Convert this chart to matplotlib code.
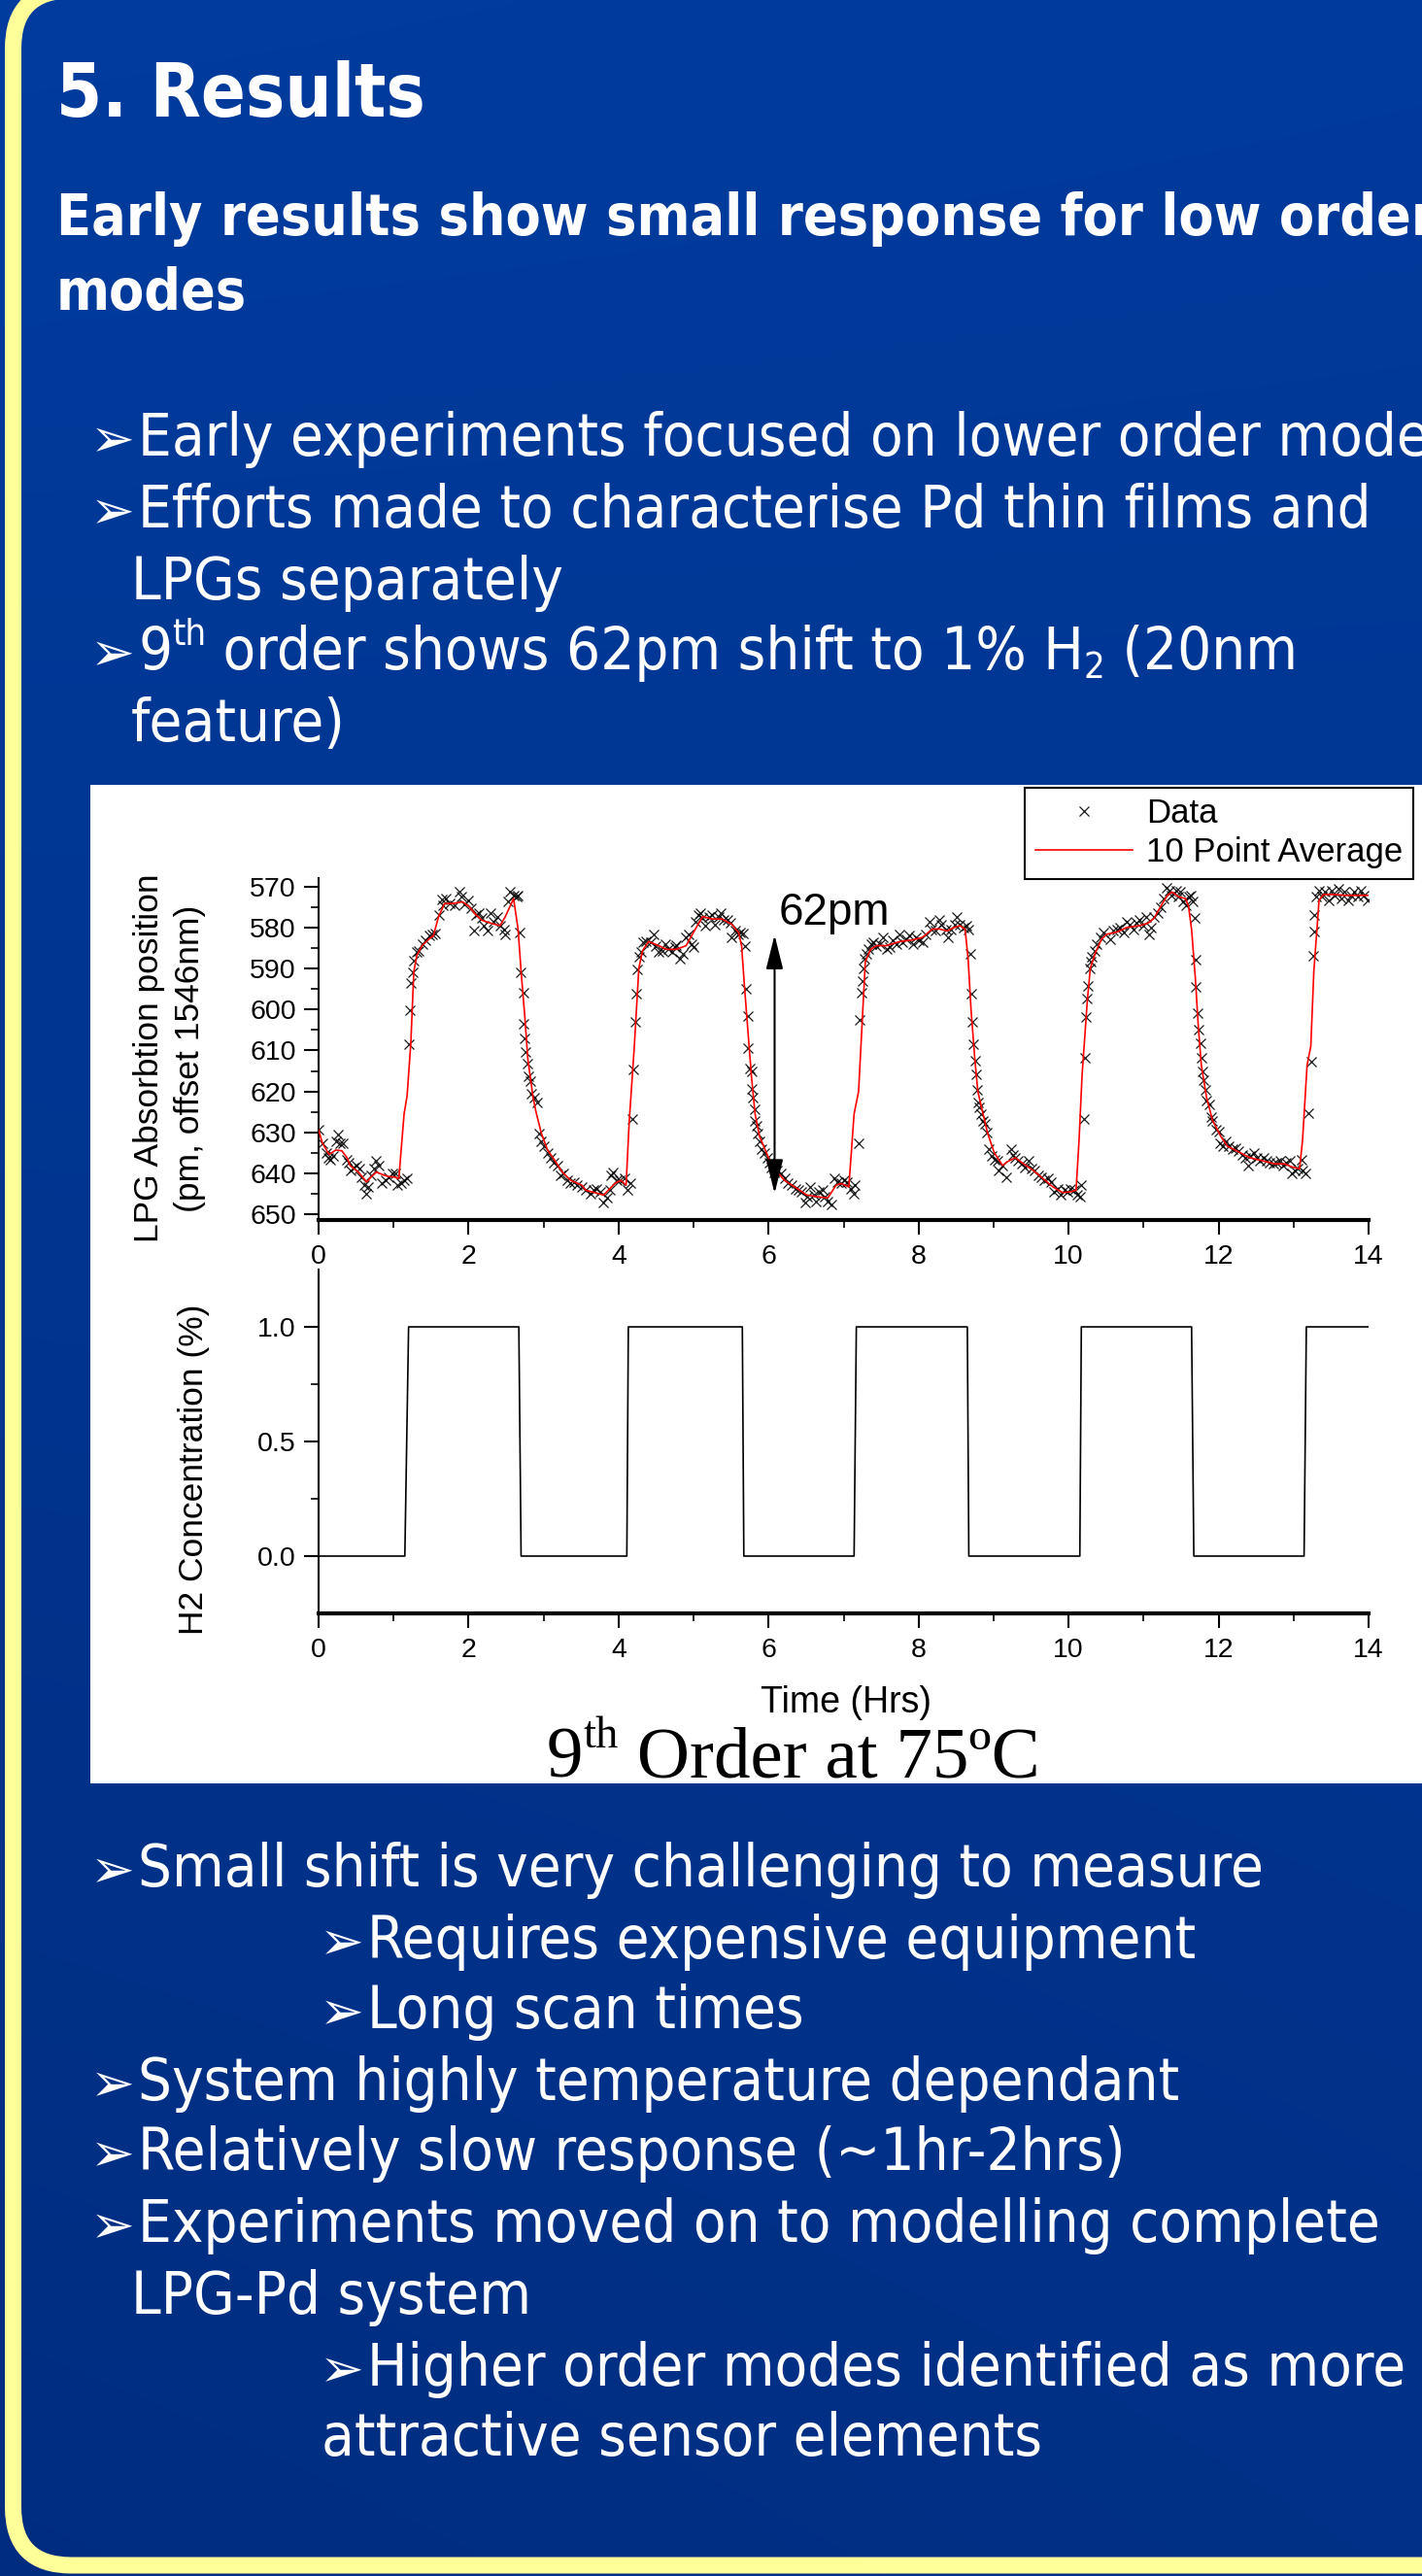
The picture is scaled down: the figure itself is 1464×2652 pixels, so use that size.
import numpy as np
import matplotlib
matplotlib.use("Agg")
import matplotlib.pyplot as plt
from matplotlib import font_manager as fm
from matplotlib.patches import FancyBboxPatch, Rectangle

W, H = 1464, 2652

# ---- values ----
# LPG absorption data (hrs, pm)
data_t = [0.00, 0.05, 0.10, 0.13, 0.16, 0.19, 0.23, 0.26, 0.29, 0.33, 0.37, 0.40, 0.43, 0.47,
          0.51, 0.54, 0.57, 0.61, 0.64, 0.66, 0.70, 0.74, 0.77, 0.80, 0.84, 0.89, 0.93, 0.99,
          1.02, 1.05, 1.10, 1.14, 1.18, 1.20, 1.22, 1.23, 1.25, 1.27, 1.31, 1.33, 1.38, 1.42,
          1.47, 1.51, 1.55, 1.60, 1.64, 1.66, 1.70, 1.75, 1.81, 1.88, 1.90, 1.94, 1.99, 2.03,
          2.07, 2.10, 2.14, 2.17, 2.20, 2.25, 2.29, 2.33, 2.38, 2.42, 2.47, 2.49, 2.52, 2.55,
          2.60, 2.64, 2.66, 2.68, 2.70, 2.73, 2.73, 2.75, 2.76, 2.78, 2.80, 2.82, 2.84, 2.87,
          2.92, 2.94, 2.97, 3.01, 3.05, 3.10, 3.14, 3.18, 3.23, 3.27, 3.31, 3.36, 3.40, 3.44,
          3.51, 3.56, 3.62, 3.67, 3.71, 3.75, 3.80, 3.84, 3.88, 3.90, 3.93, 3.97, 4.01, 4.08,
          4.12, 4.16, 4.18, 4.20, 4.22, 4.24, 4.25, 4.27, 4.30, 4.33, 4.36, 4.43, 4.47, 4.50,
          4.53, 4.58, 4.62, 4.66, 4.71, 4.75, 4.77, 4.82, 4.86, 4.90, 4.94, 4.97, 5.00, 5.02,
          5.06, 5.09, 5.12, 5.16, 5.21, 5.25, 5.29, 5.33, 5.36, 5.40, 5.45, 5.49, 5.51, 5.55,
          5.59, 5.62, 5.66, 5.68, 5.70, 5.72, 5.73, 5.75, 5.77, 5.78, 5.79, 5.81, 5.82, 5.84,
          5.86, 5.88, 5.91, 5.95, 5.98, 6.01, 6.04, 6.07, 6.11, 6.16, 6.21, 6.25, 6.31, 6.36,
          6.40, 6.44, 6.49, 6.52, 6.55, 6.60, 6.63, 6.67, 6.72, 6.75, 6.79, 6.84, 6.88, 6.92,
          6.97, 7.01, 7.05, 7.10, 7.13, 7.15, 7.20, 7.22, 7.24, 7.25, 7.26, 7.28, 7.30, 7.33,
          7.37, 7.40, 7.44, 7.49, 7.53, 7.57, 7.62, 7.66, 7.70, 7.75, 7.79, 7.83, 7.88, 7.92,
          7.97, 8.01, 8.05, 8.10, 8.14, 8.17, 8.23, 8.27, 8.30, 8.36, 8.39, 8.43, 8.48, 8.51,
          8.55, 8.60, 8.64, 8.67, 8.69, 8.70, 8.72, 8.73, 8.75, 8.77, 8.78, 8.80, 8.81, 8.83,
          8.86, 8.89, 8.91, 8.94, 8.97, 9.01, 9.05, 9.07, 9.12, 9.17, 9.23, 9.26, 9.29, 9.33,
          9.38, 9.42, 9.47, 9.51, 9.55, 9.60, 9.64, 9.68, 9.73, 9.77, 9.81, 9.86, 9.90, 9.94,
          9.99, 10.03, 10.07, 10.12, 10.15, 10.17, 10.20, 10.22, 10.23, 10.24, 10.26, 10.28,
          10.30, 10.31, 10.35, 10.38, 10.42, 10.47, 10.56, 10.60, 10.64, 10.69, 10.73, 10.77,
          10.82, 10.86, 10.90, 10.95, 10.99, 11.03, 11.07, 11.10, 11.14, 11.19, 11.23, 11.27,
          11.30, 11.34, 11.37, 11.43, 11.46, 11.49, 11.53, 11.56, 11.61, 11.63, 11.65, 11.68,
          11.69, 11.70, 11.72, 11.74, 11.76, 11.77, 11.79, 11.80, 11.82, 11.84, 11.87, 11.90,
          11.92, 11.97, 12.00, 12.02, 12.06, 12.10, 12.14, 12.19, 12.23, 12.27, 12.32, 12.36,
          12.39, 12.42, 12.47, 12.51, 12.55, 12.60, 12.64, 12.68, 12.73, 12.77, 12.82, 12.86,
          12.90, 12.95, 12.98, 13.01, 13.05, 13.10, 13.12, 13.16, 13.20, 13.24, 13.26, 13.27,
          13.28, 13.30, 13.34, 13.38, 13.42, 13.47, 13.51, 13.55, 13.60, 13.64, 13.68, 13.73,
          13.77, 13.81, 13.86, 13.90, 13.94, 13.99]
data_v = [629.4, 632.6, 635.0, 636.2, 636.7, 635.8, 632.2, 630.6, 632.6, 632.6, 636.6, 637.4, 639.3, 638.5,
          638.1, 638.9, 640.9, 642.9, 644.9, 643.3, 640.5, 638.9, 637.0, 638.0, 642.5, 641.7, 640.9, 640.1,
          639.9, 642.9, 642.5, 641.7, 641.3, 608.5, 600.2, 593.5, 591.0, 588.0, 586.0, 585.6, 584.0, 583.0,
          582.0, 581.6, 581.4, 576.9, 573.2, 574.5, 572.9, 574.1, 574.5, 571.3, 572.5, 574.3, 573.3, 575.3,
          580.8, 576.9, 576.5, 577.7, 579.6, 580.8, 576.5, 578.5, 577.3, 579.6, 580.4, 581.6, 573.7, 571.3,
          572.1, 572.5, 572.1, 581.2, 591.0, 595.8, 603.6, 607.1, 610.3, 613.2, 616.4, 617.4, 620.6, 621.5,
          622.7, 630.2, 632.2, 633.4, 635.0, 636.2, 637.4, 638.1, 640.5, 640.1, 641.7, 642.5, 642.1, 642.9,
          643.3, 644.1, 644.9, 644.1, 643.7, 644.5, 647.2, 646.0, 644.1, 640.5, 639.7, 641.7, 641.7, 641.3,
          644.1, 642.5, 626.7, 614.6, 603.0, 596.2, 590.3, 587.2, 586.0, 583.6, 583.4, 583.6, 581.6, 584.4,
          586.0, 585.6, 584.0, 585.3, 586.0, 584.8, 584.2, 587.5, 586.4, 582.4, 581.6, 584.0, 584.8, 578.5,
          576.9, 576.5, 577.7, 579.6, 577.3, 576.9, 579.2, 577.3, 576.5, 578.2, 578.1, 578.9, 582.4, 580.8,
          581.6, 581.2, 581.4, 584.4, 594.9, 601.5, 609.4, 614.4, 615.2, 619.3, 621.4, 624.3, 627.1, 628.3,
          630.2, 632.2, 634.2, 635.0, 636.2, 637.4, 638.5, 639.7, 639.3, 640.1, 641.3, 642.5, 642.9, 643.7,
          644.1, 644.5, 647.2, 645.7, 643.3, 645.3, 646.8, 644.5, 644.1, 645.7, 646.8, 647.6, 641.3, 642.1,
          642.5, 641.7, 642.1, 643.7, 644.9, 642.9, 632.6, 602.6, 595.8, 593.1, 589.9, 587.5, 586.4, 585.2,
          584.0, 583.6, 584.4, 584.0, 582.4, 585.2, 584.8, 583.2, 584.0, 581.6, 583.6, 582.8, 582.0, 584.0,
          582.4, 583.2, 583.6, 581.6, 578.5, 580.4, 580.8, 578.2, 579.2, 580.4, 582.4, 580.4, 579.2, 577.3,
          579.2, 580.0, 579.6, 580.4, 586.4, 596.2, 603.0, 608.5, 612.4, 615.8, 619.6, 622.7, 623.9, 625.5,
          627.1, 627.9, 630.1, 634.2, 635.8, 636.6, 637.0, 639.3, 638.1, 640.9, 634.2, 635.4, 636.2, 637.0,
          637.7, 638.5, 637.0, 638.9, 639.3, 640.5, 640.9, 641.7, 641.3, 642.1, 644.5, 643.7, 645.3, 644.1,
          644.5, 643.7, 644.1, 645.3, 645.7, 642.9, 626.7, 611.7, 601.8, 597.2, 594.3, 589.9,
          588.3, 587.2, 585.6, 584.0, 582.4, 581.2, 582.8, 580.8, 580.4, 580.0, 581.2, 578.5,
          579.2, 580.4, 578.9, 578.1, 579.6, 577.3, 581.6, 580.0, 577.3, 576.5, 574.9, 572.9,
          570.2, 570.9, 572.1, 570.9, 572.5, 571.3, 573.7, 574.5, 572.5, 572.1, 573.7, 577.7,
          587.8, 594.5, 600.8, 604.9, 608.3, 611.7, 615.2, 617.2, 619.6, 622.3, 623.1, 626.3,
          627.1, 629.4, 629.8, 632.6, 633.4, 632.2, 633.4, 634.2, 633.8, 634.6, 635.4, 636.2,
          638.1, 635.8, 635.0, 636.2, 637.0, 636.2, 637.0, 637.4, 637.7, 637.4, 637.0, 638.1,
          637.4, 637.0, 640.1, 639.3, 638.9, 636.6, 639.3, 640.1, 625.3, 612.8, 586.8, 581.0,
          576.9, 572.5, 570.9, 572.5, 571.3, 573.3, 570.9, 572.1, 570.6, 572.9, 571.3, 573.3,
          572.1, 571.3, 572.5, 570.9, 572.1, 573.3]

# 10 point average (hrs, pm)
avg_t = [0.00, 0.05, 0.14, 0.23, 0.31, 0.38, 0.42, 0.53, 0.64, 0.70, 0.77, 0.88, 0.94, 1.01, 1.07,
         1.14, 1.18, 1.23, 1.27, 1.31, 1.38, 1.47, 1.53, 1.60, 1.68, 1.79, 1.92, 2.01, 2.10, 2.18,
         2.31, 2.42, 2.49, 2.60, 2.66, 2.70, 2.75, 2.79, 2.86, 2.90, 2.97, 3.05, 3.14, 3.25, 3.36,
         3.51, 3.56, 3.80, 3.95, 4.03, 4.10, 4.14, 4.21, 4.27, 4.32, 4.40, 4.51, 4.64, 4.77, 4.90,
         5.01, 5.12, 5.25, 5.38, 5.51, 5.60, 5.64, 5.68, 5.73, 5.77, 5.82, 5.88, 5.99, 6.08, 6.21,
         6.38, 6.51, 6.64, 6.79, 6.90, 6.97, 7.07, 7.14, 7.20, 7.25, 7.29, 7.36, 7.44, 7.57, 7.75,
         7.92, 8.05, 8.18, 8.27, 8.38, 8.47, 8.55, 8.62, 8.66, 8.70, 8.75, 8.79, 8.86, 8.92, 9.01,
         9.12, 9.18, 9.29, 9.40, 9.53, 9.66, 9.79, 9.92, 10.03, 10.10, 10.14, 10.18, 10.25, 10.29,
         10.36, 10.44, 10.51, 10.64, 10.77, 10.95, 11.06, 11.14, 11.25, 11.32, 11.38, 11.47, 11.56,
         11.60, 11.64, 11.69, 11.73, 11.77, 11.84, 11.92, 12.03, 12.12, 12.25, 12.42, 12.60, 12.75,
         12.88, 12.99, 13.08, 13.12, 13.18, 13.23, 13.27, 13.34, 13.40, 13.55, 13.68, 13.86, 14.00]
avg_v = [629.4, 632.6, 635.4, 634.3, 634.5, 636.2, 638.1, 639.7, 642.1, 640.9, 639.7, 640.5, 640.8, 640.9, 641.3,
         625.5, 621.1, 608.1, 590.7, 586.8, 584.4, 582.8, 582.0, 577.3, 574.1, 574.1, 573.7, 574.9, 576.9, 578.2,
         579.0, 579.5, 577.3, 572.9, 580.4, 590.7, 601.8, 612.1, 621.5, 625.1, 630.2, 634.2, 636.6, 639.7, 641.7,
         642.9, 644.1, 645.3, 642.5, 641.7, 642.9, 627.9, 608.9, 589.9, 585.6, 583.4, 584.2, 585.3, 585.3, 584.4,
         580.8, 577.3, 577.9, 577.9, 579.2, 581.2, 584.4, 594.7, 606.5, 616.0, 625.5, 631.0, 635.8, 638.9, 641.7,
         643.7, 645.3, 645.7, 646.0, 642.9, 642.5, 643.3, 625.5, 620.0, 602.6, 588.3, 585.3, 584.4, 584.4, 583.4,
         583.0, 582.4, 580.4, 580.3, 580.8, 580.0, 579.5, 580.4, 587.5, 600.2, 612.1, 620.0, 625.5, 630.2, 635.0,
         638.1, 637.2, 636.2, 637.7, 639.3, 641.3, 643.3, 644.7, 644.5, 644.1, 631.8, 616.0, 597.8, 589.9,
         586.0, 582.8, 581.6, 581.1, 580.0, 579.5, 578.9, 577.7, 574.1, 572.1, 571.3, 572.5, 572.9,
         574.9, 580.4, 592.3, 604.2, 613.6, 621.5, 627.1, 631.0, 633.4, 634.6, 636.2, 637.0, 637.7,
         637.7, 638.5, 638.9, 631.8, 613.6, 608.9, 590.7, 573.3, 571.9, 571.9, 572.1, 572.1, 572.1]

# H2 concentration steps (hrs, %)
h2_t = [0, 1.15, 1.20, 2.67, 2.70, 4.11, 4.13, 5.65, 5.67, 7.14, 7.17, 8.65, 8.67,
        10.15, 10.17, 11.64, 11.67, 13.14, 13.17, 14.0]
h2_v = [0, 0, 1, 1, 0, 0, 1, 1, 0, 0, 1, 1, 0, 0, 1, 1, 0, 0, 1, 1]

time_ticks = [0, 2, 4, 6, 8, 10, 12, 14]
pos_ticks = [570, 580, 590, 600, 610, 620, 630, 640, 650]
conc_ticks = [0.0, 0.5, 1.0]
conc_labels = ["0.0", "0.5", "1.0"]

shift_arrow = (6.08, 581.8, 644.9)   # t, top, bottom

# slide bullets: (level, baseline y px, text)
upper_bullets = [
    (1, 469, "Early experiments focused on lower order modes"),
    (1, 543, "Efforts made to characterise Pd thin films and"),
    (0, 617, "LPGs separately"),
    (0, 763, "feature)"),
]
lower_bullets = [
    (1, 1942, "Small shift is very challenging to measure"),
    (2, 2016, "Requires expensive equipment"),
    (2, 2088, "Long scan times"),
    (1, 2162, "System highly temperature dependant"),
    (1, 2234, "Relatively slow response (~1hr-2hrs)"),
    (1, 2308, "Experiments moved on to modelling complete"),
    (0, 2382, "LPG-Pd system"),
    (2, 2456, "Higher order modes identified as more"),
    (3, 2528, "attractive sensor elements"),
]


def slide_font():
    prop = fm.FontProperties(family="DejaVu Sans", stretch="condensed")
    try:
        path = fm.findfont(prop, fallback_to_default=False)
    except Exception:
        path = ""
    if "Condensed" in path:
        return dict(family=["DejaVu Sans"], fontstretch="condensed")
    return dict(family=["Lato", "DejaVu Sans"])


def main():
    fig = plt.figure(figsize=(W / 100, H / 100), dpi=100)
    bg = fig.add_axes([0, 0, 1, 1])
    bg.set_xlim(0, W)
    bg.set_ylim(H, 0)
    bg.axis("off")

    # blue slide background
    yy, xx = np.mgrid[0:1:300j, 0:1:160j]
    f = np.clip(0.75 * yy + 0.25 * (1 - xx) * yy + 0.1 * xx * (1 - yy), 0, 1)
    top = np.array([0.0, 0.235, 0.62])
    bot = np.array([0.0, 0.175, 0.50])
    img = top[None, None, :] * (1 - f[..., None]) + bot[None, None, :] * f[..., None]
    bg.imshow(img, extent=(0, W, H, 0), aspect="auto", zorder=0, interpolation="bilinear")

    bg.add_patch(FancyBboxPatch((13.5, -10), 1700, 2651,
                                boxstyle="round,pad=0,rounding_size=60",
                                fill=False, edgecolor="#FFFF99", linewidth=17 * 0.72, zorder=1))
    bg.add_patch(Rectangle((93, 808), W - 93, 1836 - 808, facecolor="white",
                           edgecolor="none", zorder=1))

    renderer = fig.canvas.get_renderer()
    sans = slide_font()

    def width_of(s, size, **kw):
        t = bg.text(0, 0, s, fontsize=size, **kw)
        w = t.get_window_extent(renderer).width
        t.remove()
        return w

    body = 40 * 1269 / width_of("Efforts made to characterise Pd thin films and", 40, **sans)
    title = 1.06 * 60 * 359 / width_of("5. Results", 60, weight="bold", **sans)
    sub = 40 * 1420 / width_of("Early results show small response for low order", 40,
                               weight="bold", **sans)

    def rich(x, y, parts, size, **kw):
        for s, scale, rise in parts:
            t = bg.text(x, y - rise * size * 100 / 72, s, fontsize=size * scale,
                        va="baseline", ha="left", zorder=3, **kw)
            x += t.get_window_extent(renderer).width

    white = dict(color="white", **sans)
    bg.text(58, 120, "5. Results", fontsize=title, weight="bold", va="baseline", zorder=3, **white)
    bg.text(58, 242, "Early results show small response for low order", fontsize=sub,
            weight="bold", va="baseline", zorder=3, **white)
    bg.text(58, 319, "modes", fontsize=sub, weight="bold", va="baseline", zorder=3, **white)

    arrow_x = {1: 93, 2: 329}
    text_x = {0: 135, 1: 142, 2: 378, 3: 331}

    def arrow_bullet(level, y):
        t = bg.text(arrow_x[level], y + 1, "\u27a2", fontsize=body * 1.2, family="DejaVu Sans",
                    color="white", va="baseline", zorder=3)
        # keep the arrowhead clear of the text that follows it
        bb = t.get_window_extent(renderer)
        room = text_x[level] - 3 - arrow_x[level]
        if bb.width > room:
            t.set_fontsize(body * 1.2 * room / bb.width)

    for lvl, y, s in upper_bullets + lower_bullets:
        if lvl in arrow_x:
            arrow_bullet(lvl, y)
        bg.text(text_x[lvl], y, s, fontsize=body, va="baseline", zorder=3, **white)
    arrow_bullet(1, 689)
    rich(text_x[1], 689, [("9", 1, 0), ("th", 0.62, 0.40),
                          (" order shows 62pm shift to 1% H", 1, 0), ("2", 0.62, -0.15),
                          (" (20nm", 1, 0)], body, **white)

    # ---- chart ----
    arial = "Liberation Sans"
    x0, x1 = 328 / W, 1409 / W
    ax1 = fig.add_axes([x0, 1 - 1256 / H, x1 - x0, (1256 - 904) / H])
    ax2 = fig.add_axes([x0, 1 - 1661 / H, x1 - x0, (1661 - 1307) / H])

    pts, = ax1.plot(data_t, data_v, "x", color="black", ms=6.5, mew=0.9, alpha=0.9, zorder=2)
    avg, = ax1.plot(avg_t, avg_v, color="red", lw=1.2, zorder=3)
    ax1.set_ylim(651.4, 567.9)
    ax1.set_yticks(pos_ticks)
    ax1.set_yticks([p + 5 for p in pos_ticks[:-1]], minor=True)

    ax2.plot(h2_t, h2_v, color="black", lw=1.2)
    ax2.set_ylim(-0.25, 1.25)
    ax2.set_yticks(conc_ticks)
    ax2.set_yticklabels(conc_labels)
    ax2.set_yticks([0.25, 0.75], minor=True)

    for ax in (ax1, ax2):
        ax.set_zorder(2)
        ax.patch.set_alpha(0)
        ax.set_xlim(0, 14)
        ax.set_xticks(time_ticks)
        ax.set_xticks([t + 1 for t in time_ticks[:-1]], minor=True)
        ax.spines["top"].set_visible(False)
        ax.spines["right"].set_visible(False)
        ax.spines["left"].set_linewidth(1.5)
        ax.spines["bottom"].set_linewidth(3)
        ax.tick_params(which="major", direction="out", length=10.8, width=1.5,
                       labelsize=20.5, pad=6)
        ax.tick_params(which="minor", direction="out", length=5.8, width=1.2)
        ax.tick_params(axis="x", which="major", pad=7)
        for lab in ax.get_xticklabels() + ax.get_yticklabels():
            lab.set_family(arial)

    ax1.annotate("", xy=(shift_arrow[0], shift_arrow[1]), xytext=(shift_arrow[0], shift_arrow[2]),
                 arrowprops=dict(arrowstyle="<|-|>,head_length=1.2,head_width=0.3", lw=1.5,
                                 color="black", mutation_scale=18, shrinkA=0, shrinkB=0))
    ax1.text(6.13, 579.3, "62pm", fontsize=33, family=arial, va="baseline", ha="left")

    leg = ax1.legend([pts, avg], ["Data", "10 Point Average"], loc="upper right",
                     bbox_to_anchor=(1455 / W, 1 - 811 / H), bbox_transform=fig.transFigure,
                     frameon=True, fancybox=False, edgecolor="black", framealpha=1,
                     prop=dict(family=arial, size=25), borderpad=0.3, labelspacing=0.2,
                     handlelength=2.9, handletextpad=0.4, borderaxespad=0, numpoints=1)
    leg.get_frame().set_linewidth(1.5)

    lab = dict(family=arial, fontsize=25.5, rotation=90, ha="center", va="center", zorder=3)
    bg.text(154, 1089, "LPG Absorbtion position", **lab)
    bg.text(196, 1090, "(pm, offset 1546nm)", **lab)
    bg.text(200, 1513, "H2 Concentration (%)", **lab)
    bg.text(871, 1753, "Time (Hrs)", family=arial, fontsize=27, ha="center", va="center",
            zorder=3)

    rich(563, 1829, [("9", 1, 0), ("th", 0.62, 0.40), (" Order at 75\u00baC", 1, 0)], 54,
         family="Liberation Serif", color="black")

    fig.savefig("out.png", dpi=100)


if __name__ == "__main__":
    main()
